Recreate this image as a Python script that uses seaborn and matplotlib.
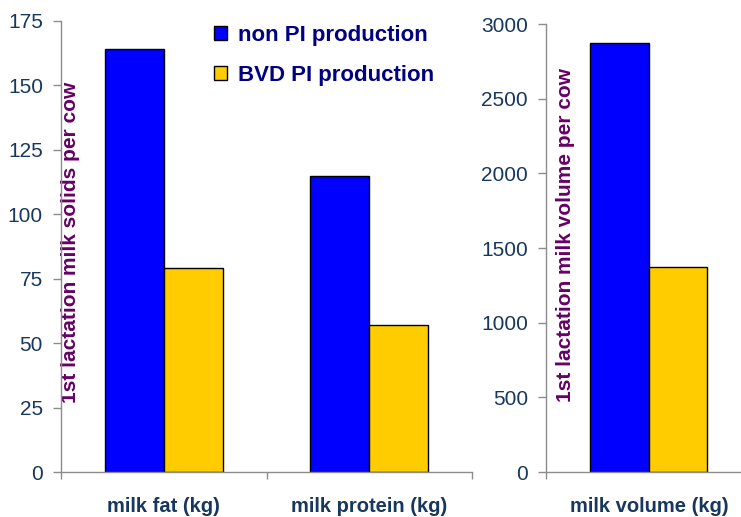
#!/usr/bin/env python3
## first lactation production: non PI vs BVD PI cows

import matplotlib
matplotlib.use("Agg")
import matplotlib.pyplot as plt
import seaborn as sb
import pandas as pd
from matplotlib.ticker import FixedLocator

groups = ["non PI production", "BVD PI production"]
solids_cats = ["milk fat (kg)", "milk protein (kg)"]
solids_non_pi = [164, 115]
solids_bvd_pi = [79, 57]
volume_cats = ["milk volume (kg)"]
volume_non_pi = [2870]
volume_bvd_pi = [1370]

colors = {"non PI production": "#0000FF", "BVD PI production": "#FFCC00"}
tick_col = "#17375E"
label_col = "#660066"
spine_col = "#8C8C8C"

def long_table(cats, a, b):
    rows = []
    for c, v in zip(cats, a):
        rows.append((c, groups[0], v))
    for c, v in zip(cats, b):
        rows.append((c, groups[1], v))
    return pd.DataFrame(rows, columns=["cat", "group", "value"])

solids = long_table(solids_cats, solids_non_pi, solids_bvd_pi)
volume = long_table(volume_cats, volume_non_pi, volume_bvd_pi)

sb.set_style("white")
plt.rcParams["font.family"] = ["Liberation Sans", "DejaVu Sans"]

fig = plt.figure(figsize=(7.41, 5.17), dpi=100)
ax1 = fig.add_axes([61/741, 1-472/517, 411/741, 451/517])
ax2 = fig.add_axes([546/741, 1-472/517, 195/741, 448/517])

sb.barplot(data=solids, x="cat", y="value", hue="group", palette=colors,
           saturation=1, width=0.575, edgecolor="black", linewidth=1, ax=ax1)
sb.barplot(data=volume, x="cat", y="value", hue="group", palette=colors,
           saturation=1, width=0.6, edgecolor="black", linewidth=1, ax=ax2)

handles, labels = ax1.get_legend_handles_labels()
ax1.get_legend().remove()
ax2.get_legend().remove()

ax1.set_ylim(0, 175)
ax1.set_yticks(range(0, 176, 25))
ax1.set_xlim(-0.5, 1.5)
ax1.xaxis.set_minor_locator(FixedLocator([-0.5, 0.5, 1.5]))

ax2.set_ylim(0, 3000)
ax2.set_yticks(range(0, 3001, 500))
ax2.set_xlim(-0.528, 0.472)
ax2.xaxis.set_minor_locator(FixedLocator([-0.528]))

for ax in (ax1, ax2):
    for s in ("top", "right"):
        ax.spines[s].set_visible(False)
    for s in ("left", "bottom"):
        ax.spines[s].set_color(spine_col)
        ax.spines[s].set_linewidth(1)
    ax.tick_params(axis="y", which="major", length=6, width=1, color=spine_col,
                   pad=7, labelsize=15, labelcolor=tick_col, left=True)
    ax.tick_params(axis="x", which="major", length=0, pad=18, labelsize=14.5,
                   labelcolor=tick_col)
    ax.tick_params(axis="x", which="minor", length=5, width=1, color=spine_col,
                   bottom=True)
    for t in ax.get_xticklabels():
        t.set_fontweight("bold")
    ax.set_xlabel("")

ax1.set_ylabel("1st lactation milk solids per cow", fontsize=15,
               fontweight="bold", color=label_col)
ax1.yaxis.set_label_coords(0.046, 0.51)
ax2.set_ylabel("1st lactation milk volume per cow", fontsize=15,
               fontweight="bold", color=label_col)
ax2.yaxis.set_label_coords(0.15, 0.53)

leg = fig.legend(handles, labels, loc="upper left",
                 bbox_to_anchor=(194/741, 1-5/517), frameon=False,
                 prop={"size": 16, "weight": "bold"}, labelcolor="#000080",
                 handlelength=0.6, handleheight=0.6, handletextpad=0.5,
                 labelspacing=0.85)

fig.savefig("out.png", dpi=100)
plt.close(fig)
